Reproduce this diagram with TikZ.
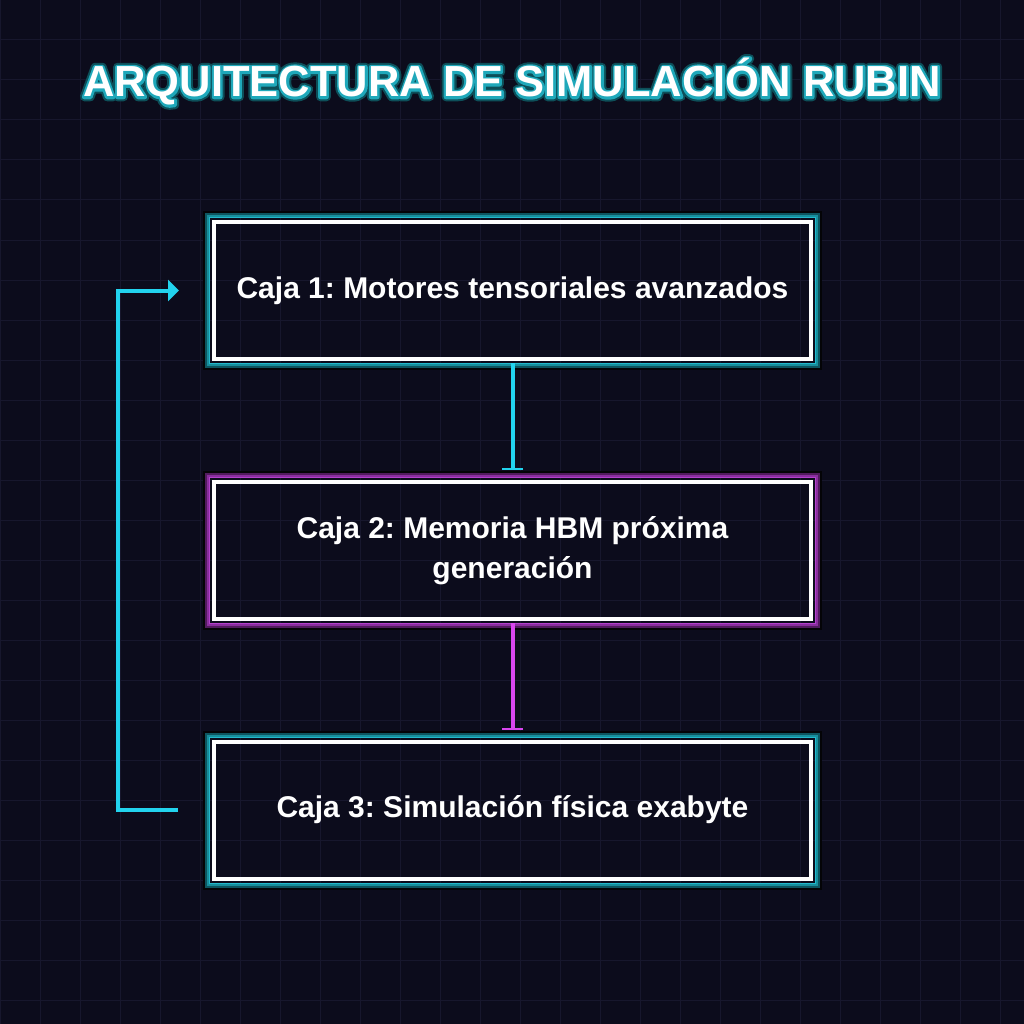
\documentclass[tikz,border=0pt]{standalone}
\usepackage{fontspec}
\setmainfont{Liberation Sans}
\usetikzlibrary{arrows.meta}
\frenchspacing
\definecolor{bg}{HTML}{0C0C1C}
\definecolor{gridc}{HTML}{17172D}
\definecolor{cyanc}{HTML}{22D3EE}
\definecolor{magc}{HTML}{D946EF}
\definecolor{cgA}{HTML}{22B8CC}
\definecolor{cgB}{HTML}{178E9C}
\definecolor{cgC}{HTML}{0D5560}
\definecolor{mgA}{HTML}{B440CC}
\definecolor{mgB}{HTML}{8A2E9E}
\definecolor{mgC}{HTML}{521B5E}
\definecolor{gk}{HTML}{040407}
\newcommand{\titletxt}{ARQUITECTURA DE SIMULACIÓN RUBIN}
\newcommand{\outerglow}{{\color{white}\special{pdf:literal direct 1 Tr 8.5 w 0.05 0.31 0.35 RG 1 j}\titletxt\special{pdf:literal direct 0 Tr 0 j}}}
\newcommand{\innerglow}{{\color{white}\special{pdf:literal direct 1 Tr 4.5 w 0.12 0.66 0.73 RG 1 j}\titletxt\special{pdf:literal direct 0 Tr 0 j}}}
\newcommand{\glowbox}[4]{%
  \draw[gk,line width=2pt] ([xshift=-8pt,yshift=8pt]#1.north west) rectangle ([xshift=8pt,yshift=-8pt]#1.south east);
  \draw[#4,line width=2pt] ([xshift=-6pt,yshift=6pt]#1.north west) rectangle ([xshift=6pt,yshift=-6pt]#1.south east);
  \draw[#3,line width=2pt] ([xshift=-4pt,yshift=4pt]#1.north west) rectangle ([xshift=4pt,yshift=-4pt]#1.south east);
  \draw[#2,line width=1pt] ([xshift=-2.5pt,yshift=2.5pt]#1.north west) rectangle ([xshift=2.5pt,yshift=-2.5pt]#1.south east);
}
\tikzset{
  box/.style={draw=white, line width=4pt, minimum width=597pt, minimum height=137pt,
    inner sep=0pt, text=white, align=center,
    font=\fontsize{30}{40}\selectfont\bfseries},
  titlefont/.style={font=\fontsize{43.5}{50}\selectfont\bfseries, inner sep=0pt, anchor=base},
  cyanline/.style={draw=cyanc, line width=4pt},
  magline/.style={draw=magc, line width=4pt},
  bartip/.style={-{Bar[width=21pt,line width'=2pt]}},
}
\begin{document}
\begin{tikzpicture}[x=1pt,y=-1pt]
\fill[bg] (0,0) rectangle (1024,1024);
\useasboundingbox (0,0) rectangle (1024,1024);
\foreach \g in {0,40,...,1020}{
  \draw[gridc,line width=1pt] (\g,0) -- (\g,1024);
  \draw[gridc,line width=1pt] (0,\g) -- (1024,\g);
}
% title with glow
\node[titlefont] (titleglowA) at (512,97) {\outerglow};
\node[titlefont] (titleglowB) at (512,97) {\innerglow};
\node[titlefont,text=white] (title) at (512,97) {\titletxt};
% boxes
\node[box] (b1) at (512.5,290.5) {Caja 1: Motores tensoriales avanzados};
\node[box] (b2) at (512.5,550.5) {Caja 2: Memoria HBM próxima\\generación};
\node[box] (b3) at (512.5,810) {Caja 3: Simulación física exabyte};
\glowbox{b1}{cgA}{cgB}{cgC}
\glowbox{b2}{mgA}{mgB}{mgC}
\glowbox{b3}{cgA}{cgB}{cgC}
% connectors
\draw[cyanline,bartip] ([yshift=-2pt]b1.south) -- ([yshift=10pt]b2.north);
\draw[magline,bartip] ([yshift=-2pt]b2.south) -- ([yshift=10pt]b3.north);
\coordinate (loopstart) at ([xshift=-34pt]b3.west);
\draw[cyanline,-{Triangle[length=11pt,width=21pt]}] (loopstart) -- ++(-60,0) |- ([xshift=-33pt]b1.west);
\end{tikzpicture}
\end{document}
